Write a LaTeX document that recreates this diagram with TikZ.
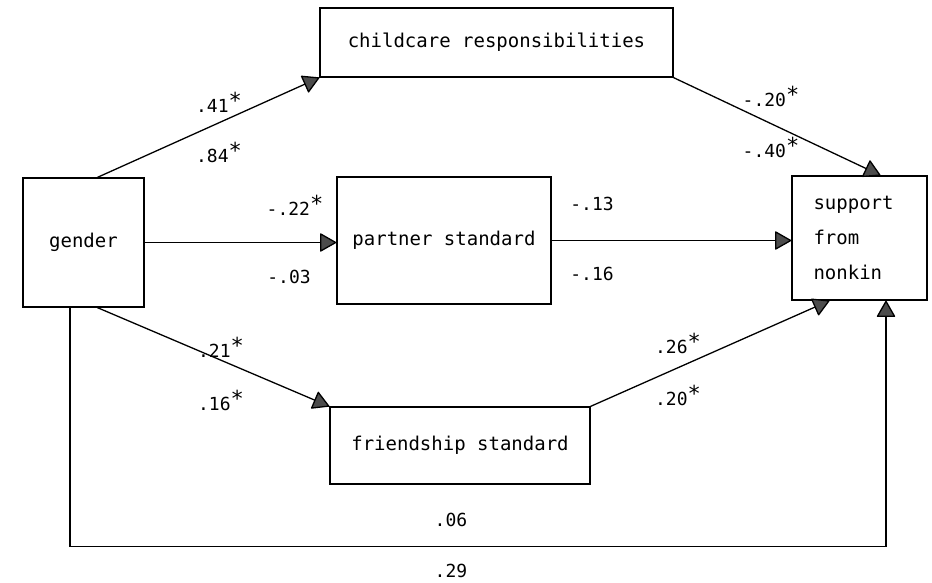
\documentclass[tikz,border=0pt]{standalone}
\usepackage{fontspec}
\usepackage{tikz}
\usetikzlibrary{arrows.meta}

\newfontfamily\typewriter{DejaVu Sans Mono}
\newcommand\boxfont{\typewriter\fontsize{19}{35}\selectfont}
\newcommand\weightfont{\typewriter\fontsize{18}{20}\selectfont}
\newcommand\signif{\raisebox{4pt}{\fontsize{22}{22}\selectfont*}}
\definecolor{tipgray}{gray}{0.3}

\begin{document}
\begin{tikzpicture}[
    x=1pt, y=-1pt,
    box/.style={draw, line width=1.3pt, inner sep=0pt, font=\boxfont},
    weight/.style={font=\weightfont, inner sep=1pt},
    link/.style={line width=1.3pt, -{Triangle[length=17pt, width=19pt, round, fill=tipgray]}}
]
    \useasboundingbox (0,0) rectangle (932,582);

    \node[box, minimum width=121pt, minimum height=129pt] (gender) at (83.5,242.5) {gender};
    \node[box, minimum width=353pt, minimum height=69pt] (care) at (496.5,42.5) {childcare responsibilities};
    \node[box, minimum width=214pt, minimum height=127pt] (partner) at (444,240.5) {partner standard};
    \node[box, minimum width=260pt, minimum height=77pt] (friend) at (460,445.5) {friendship standard};
    \node[box, minimum width=135pt, minimum height=124pt, text width=92pt, align=left] (support) at (859.5,238) {support\\from\\nonkin};

    \draw[link] ([xshift=14pt]gender.north) -- (care.south west);
    \draw[link] (care.south east) -- ([xshift=21pt]support.north);
    \draw[link] (gender.east) -- (gender.east -| partner.west);
    \draw[link] (partner.east) -- (partner.east -| support.west);
    \draw[link] ([xshift=14pt]gender.south) -- (friend.north west);
    \draw[link] (friend.north east) -- ([xshift=-30pt]support.south);
    \draw[link] ([xshift=-13.5pt]gender.south) -- ++(0,239) -| ([xshift=26.5pt]support.south);

    % path coefficients
    \node[weight] (w41) at (219,102) {.41\signif};
    \node[weight] (w84) at (219,152) {.84\signif};
    \node[weight] (w20) at (771,96) {-.20\signif};
    \node[weight] (w40) at (771,147) {-.40\signif};
    \node[weight] (w22) at (295,205) {-.22\signif};
    \node[weight] (w03) at (289,277) {-.03};
    \node[weight] (w13) at (592,204) {-.13};
    \node[weight] (w16) at (592,274) {-.16};
    \node[weight] (w21) at (221,347) {.21\signif};
    \node[weight] (w16b) at (221,400) {.16\signif};
    \node[weight] (w26) at (678,343) {.26\signif};
    \node[weight] (w20b) at (678,395) {.20\signif};
    \node[weight] (w06) at (451,520) {.06};
    \node[weight] (w29) at (451,571) {.29};
\end{tikzpicture}
\end{document}
